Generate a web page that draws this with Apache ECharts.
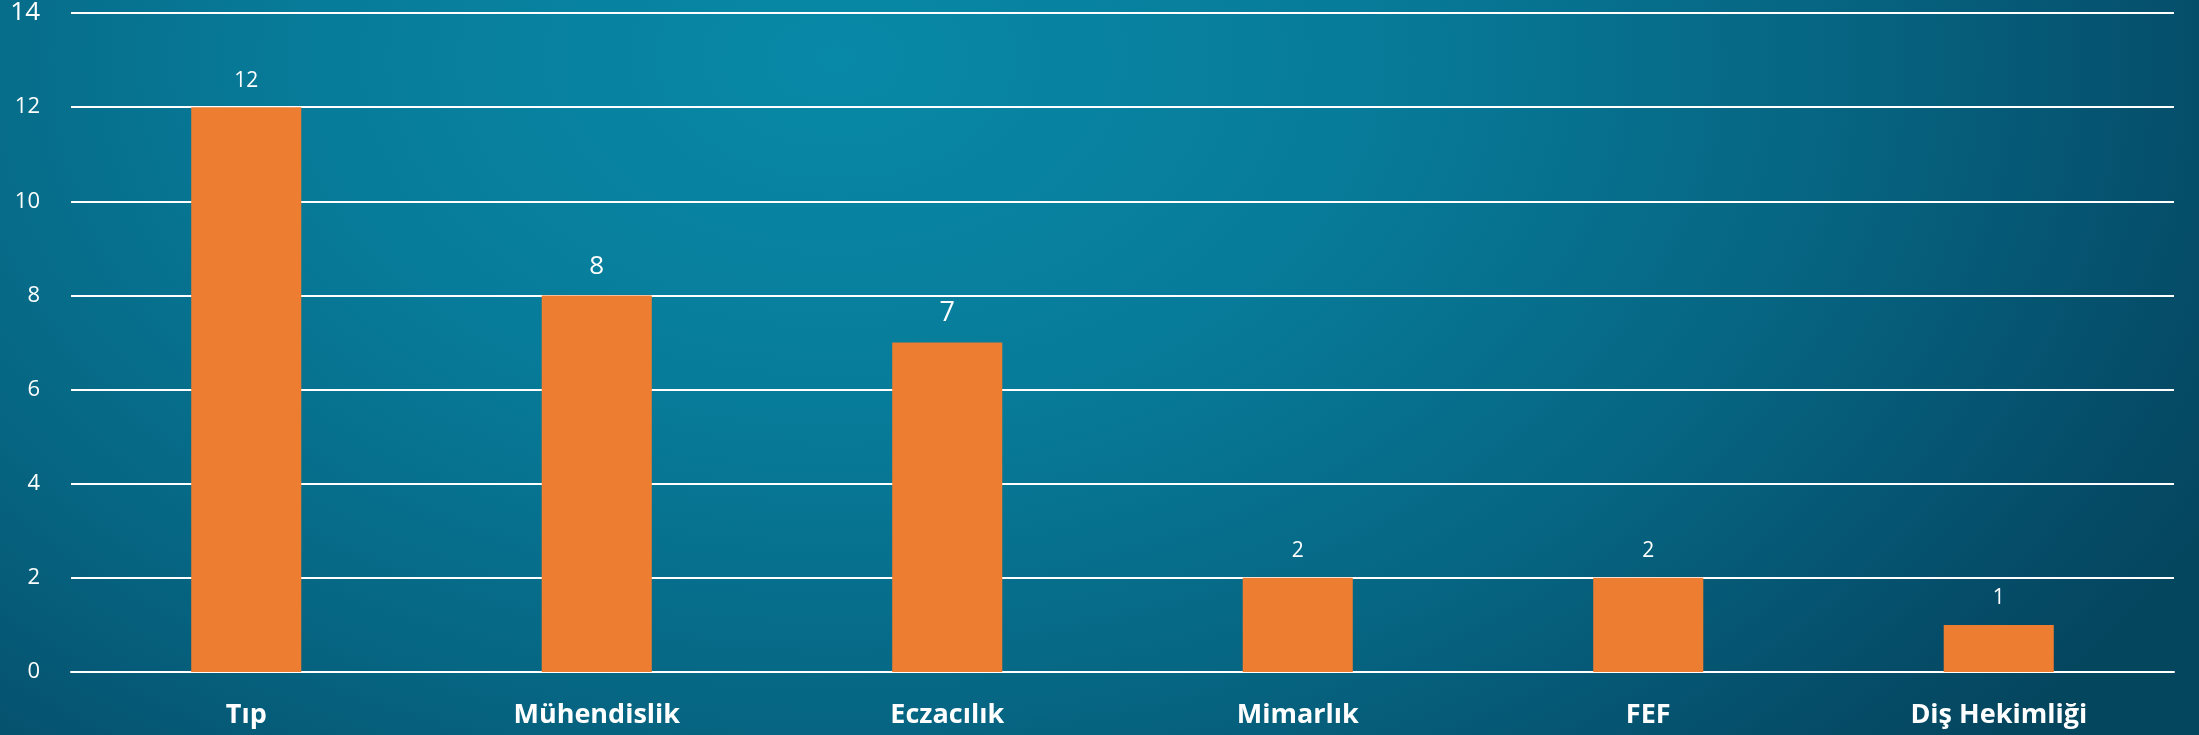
<!DOCTYPE html>
<html>
<head>
<meta charset="utf-8">
<script src="https://cdn.jsdelivr.net/npm/echarts@6/dist/echarts.min.js"></script>
<style>
    html, body { margin: 0; padding: 0; }
    body {
        width: 2199px;
        height: 735px;
        overflow: hidden;
        background: radial-gradient(ellipse 70% 140% at 38% 8%, #0889a7 0%, #077b99 35%, #066582 65%, #054d69 90%, #05465f 100%);
    }
    #chart { width: 2199px; height: 735px; }
</style>
</head>
<body>
<div id="chart"></div>
<script>
var categories = ["Tıp", "Mühendislik", "Eczacılık", "Mimarlık", "FEF", "Diş Hekimliği"];
var values = [12, 8, 7, 2, 2, 1];
var yTicks = [0, 2, 4, 6, 8, 10, 12, 14];

(function() {
    var chart = echarts.init(document.getElementById("chart"), null, { renderer: "canvas" }),
        font = "'Open Sans', 'Noto Sans', sans-serif",
        bigLabel = { "Mühendislik": 26, "Eczacılık": 27 }; // these two labels are drawn larger in the original

    var barData = values.map(function(v, i) {
        return {
            value: v,
            label: { fontSize: bigLabel[categories[i]] || 21 }
        };
    });

    chart.setOption({
        backgroundColor: "transparent",
        animation: false,
        grid: { left: 71, right: 25, top: 12, bottom: 63 },
        xAxis: {
            type: "category",
            data: categories,
            axisTick: { show: false },
            axisLine: { lineStyle: { color: "#ffffff", width: 2 } },
            axisLabel: {
                color: "#ffffff",
                fontFamily: font,
                fontWeight: "bold",
                fontSize: 27,
                margin: 30
            }
        },
        yAxis: {
            type: "value",
            min: yTicks[0],
            max: yTicks[yTicks.length - 1],
            interval: yTicks[1] - yTicks[0],
            axisLine: { show: false },
            axisTick: { show: false },
            splitLine: { lineStyle: { color: "#ffffff", width: 2 } },
            axisLabel: {
                color: "#ffffff",
                fontFamily: font,
                fontSize: 22,
                margin: 31,
                formatter: function(v) {
                    return v === yTicks[yTicks.length - 1] ? "{big|" + v + "}" : v;
                },
                rich: {
                    big: { color: "#ffffff", fontFamily: font, fontSize: 26 }
                }
            }
        },
        series: [{
            type: "bar",
            data: barData,
            barWidth: "31.4%",
            itemStyle: { color: "#ed7d31" },
            label: {
                show: true,
                position: "top",
                distance: 16,
                color: "#ffffff",
                fontFamily: font,
                fontSize: 21
            }
        }]
    });
}());
</script>
</body>
</html>
